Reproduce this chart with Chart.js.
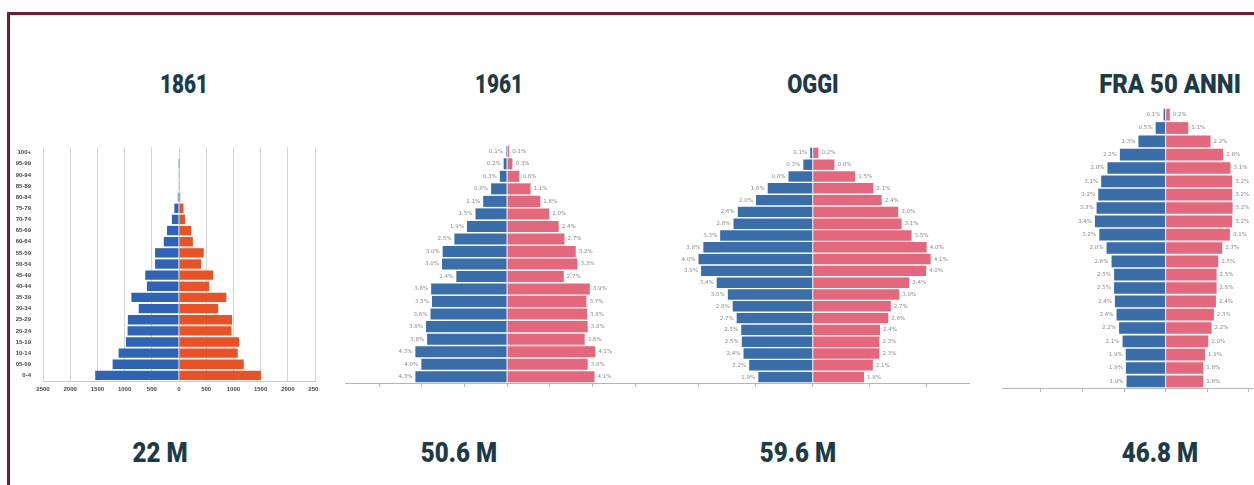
<!DOCTYPE html>
<html lang="it">
  <head>
    <meta charset="UTF-8">
    <script src="https://cdn.jsdelivr.net/npm/chart.js@4.4.0/dist/chart.umd.min.js"></script>
    <style>
      html, body {
        margin: 0;
        padding: 0;
        width: 1254px;
        height: 485px;
        overflow: hidden;
        background: #FFFFFF;
      }
      .frame {
        position: absolute;
        left: 7px;
        top: 12px;
        width: 1300px;
        height: 520px;
        border: 3px solid #7d1631;
      }
      .label {
        position: absolute;
        transform: translate(-50%, -50%) scaleX(var(--sx));
        font-family: 'Roboto', sans-serif;
        font-weight: 900;
        font-size: 26px;
        line-height: 1;
        color: #1d3b47;
        white-space: nowrap;
      }
      .totale {
        font-size: 28px;
      }
      canvas {
        position: absolute;
      }
    </style>
  </head>
  <body>
    <div class="frame"></div>

    <div class="label" style="left:184px; top:84px; --sx:0.8;">1861</div>
    <div class="label" style="left:499px; top:84px; --sx:0.8;">1961</div>
    <div class="label" style="left:813px; top:84px; --sx:0.84;">OGGI</div>
    <div class="label" style="left:1170px; top:84px; --sx:0.92;">FRA 50 ANNI</div>

    <div class="label totale" style="left:160px; top:453px; --sx:0.86;">22 M</div>
    <div class="label totale" style="left:459px; top:453px; --sx:0.86;">50.6 M</div>
    <div class="label totale" style="left:798px; top:453px; --sx:0.86;">59.6 M</div>
    <div class="label totale" style="left:1160px; top:453px; --sx:0.86;">46.8 M</div>

    <canvas id="c1861" width="308" height="254" style="left:10px; top:147px;"></canvas>
    <canvas id="c1961" width="325" height="244" style="left:345px; top:145px;"></canvas>
    <canvas id="cOggi" width="300" height="242" style="left:670px; top:147px;"></canvas>
    <canvas id="cFuturo" width="252" height="286" style="left:1002px; top:108px;"></canvas>

    <script>
      // classi di età, dall'alto verso il basso
      const ages21 = ['100+', '95-99', '90-94', '85-89', '80-84', '75-79', '70-74', '65-69', '60-64', '55-59',
        '50-54', '45-49', '40-44', '35-39', '30-34', '25-29', '20-24', '15-19', '10-14', '05-09', '0-4'];
      const ages20 = ages21.slice(1);
      const ages19 = ages21.slice(2);

      // 1861, migliaia di persone
      const maschi1861 = [0, 3, 6, 12, 22, 85, 130, 220, 280, 440, 440, 620, 590, 875, 740, 940, 945, 975, 1110, 1220, 1540];
      const femmine1861 = [0, 3, 6, 12, 22, 82, 112, 225, 255, 455, 405, 630, 555, 870, 720, 975, 965, 1105, 1080, 1190, 1505];
      const ticks1861 = [-2500, -2000, -1500, -1000, -500, 0, 500, 1000, 1500, 2000, 2500];

      // 1961, % sul totale
      const maschi1961 = [0.05, 0.16, 0.34, 0.75, 1.12, 1.48, 1.88, 2.47, 3.02, 3.05, 2.38, 3.56, 3.52, 3.59, 3.8, 3.75, 4.3, 4.02, 4.3];
      const femmine1961 = [0.1, 0.25, 0.58, 1.1, 1.56, 1.98, 2.42, 2.69, 3.22, 3.3, 2.66, 3.88, 3.72, 3.75, 3.78, 3.64, 4.14, 3.78, 4.1];

      // oggi, % sul totale
      const maschiOggi = [0.09, 0.33, 0.85, 1.58, 1.99, 2.63, 2.78, 3.25, 3.84, 4.01, 3.92, 3.37, 2.98, 2.81, 2.67, 2.51, 2.49, 2.43, 2.23, 1.91];
      const femmineOggi = [0.2, 0.76, 1.49, 2.13, 2.42, 3.0, 3.12, 3.47, 4.0, 4.14, 3.98, 3.39, 3.04, 2.74, 2.65, 2.36, 2.34, 2.34, 2.11, 1.8];

      // fra 50 anni, % sul totale
      const maschiFuturo = [0.1, 0.48, 1.31, 2.2, 2.8, 3.1, 3.24, 3.32, 3.4, 3.19, 2.84, 2.6, 2.48, 2.48, 2.44, 2.36, 2.24, 2.07, 1.92, 1.91, 1.88];
      const femmineFuturo = [0.2, 1.09, 2.16, 2.77, 3.12, 3.2, 3.2, 3.22, 3.2, 3.09, 2.72, 2.53, 2.45, 2.45, 2.42, 2.32, 2.21, 2.05, 1.89, 1.81, 1.81];

      const BLU = '#3a6eaa';
      const ROSA = '#e4677b';

      // etichette percentuali accanto alle barre
      const barLabels = {
        id: 'barLabels',
        afterDatasetsDraw(chart, args, opts) {
          if (!opts.show) return;
          const ctx = chart.ctx;
          ctx.save();
          ctx.font = '5.5px "DejaVu Sans"';
          ctx.fillStyle = '#8a8a8a';
          ctx.textBaseline = 'middle';
          chart.data.datasets.forEach((ds, i) => {
            chart.getDatasetMeta(i).data.forEach((bar, j) => {
              const v = ds.data[j];
              ctx.textAlign = v < 0 ? 'right' : 'left';
              ctx.fillText(Math.abs(v).toFixed(1) + '%', bar.x + (v < 0 ? -3 : 3), bar.y);
            });
          });
          ctx.restore();
        }
      };
      Chart.register(barLabels);

      const neg = arr => arr.map(v => -v);

      // 1861
      new Chart(document.getElementById('c1861'), {
        type: 'bar',
        data: {
          labels: ages21,
          datasets: [
            { label: 'Maschi', data: neg(maschi1861), backgroundColor: '#2e63b6', barPercentage: 0.84, categoryPercentage: 1 },
            { label: 'Femmine', data: femmine1861, backgroundColor: '#ea5124', barPercentage: 0.84, categoryPercentage: 1 }
          ]
        },
        options: {
          indexAxis: 'y',
          responsive: false,
          animation: false,
          layout: { padding: { top: 0, right: 3, bottom: 0, left: 0 } },
          plugins: { legend: { display: false }, tooltip: { enabled: false } },
          scales: {
            x: {
              stacked: true,
              min: ticks1861[0],
              max: ticks1861[ticks1861.length - 1],
              afterBuildTicks: s => { s.ticks = ticks1861.map(v => ({ value: v })); },
              ticks: {
                callback: v => Math.abs(v),
                font: { size: 6, weight: 'bold', family: 'Liberation Sans' },
                color: '#444',
                maxRotation: 0,
                autoSkip: false,
                padding: 5
              },
              grid: { color: '#d4d4d4', tickLength: 0 },
              border: { color: '#c8c8c8' },
              afterFit: s => { s.height = 20; s.paddingLeft = 0; s.paddingRight = 0; }
            },
            y: {
              stacked: true,
              ticks: {
                font: { size: 6, weight: 'bold', family: 'Liberation Sans' },
                color: '#444',
                autoSkip: false,
                padding: 4
              },
              grid: { display: false },
              border: { display: false },
              afterFit: s => { s.width = 33; s.paddingTop = 0; s.paddingBottom = 0; }
            }
          }
        }
      });

      function piramide(id, labels, maschi, femmine, min, max, bar) {
        return new Chart(document.getElementById(id), {
          type: 'bar',
          data: {
            labels: labels,
            datasets: [
              { label: 'Maschi', data: neg(maschi), backgroundColor: BLU, barPercentage: bar, categoryPercentage: 1 },
              { label: 'Femmine', data: femmine, backgroundColor: ROSA, barPercentage: bar, categoryPercentage: 1 }
            ]
          },
          options: {
            indexAxis: 'y',
            responsive: false,
            animation: false,
            layout: { padding: 0 },
            plugins: { legend: { display: false }, tooltip: { enabled: false }, barLabels: { show: true } },
            scales: {
              x: {
                stacked: true,
                min: min,
                max: max,
                ticks: { display: false, stepSize: 2, includeBounds: false },
                grid: { drawOnChartArea: false, tickLength: 4, color: '#b5b5b5' },
                border: { color: '#b5b5b5' },
                afterFit: s => { s.height = 6; s.paddingLeft = 0; s.paddingRight = 0; }
              },
              y: { stacked: true, display: false }
            }
          }
        });
      }

      piramide('c1961', ages19, maschi1961, femmine1961, -7.6, 7.64, 0.88);
      piramide('cOggi', ages20, maschiOggi, femmineOggi, -5.01, 5.52, 0.88);
      piramide('cFuturo', ages21, maschiFuturo, femmineFuturo, -7.87, 4.25, 0.88);
    </script>
  </body>
</html>
